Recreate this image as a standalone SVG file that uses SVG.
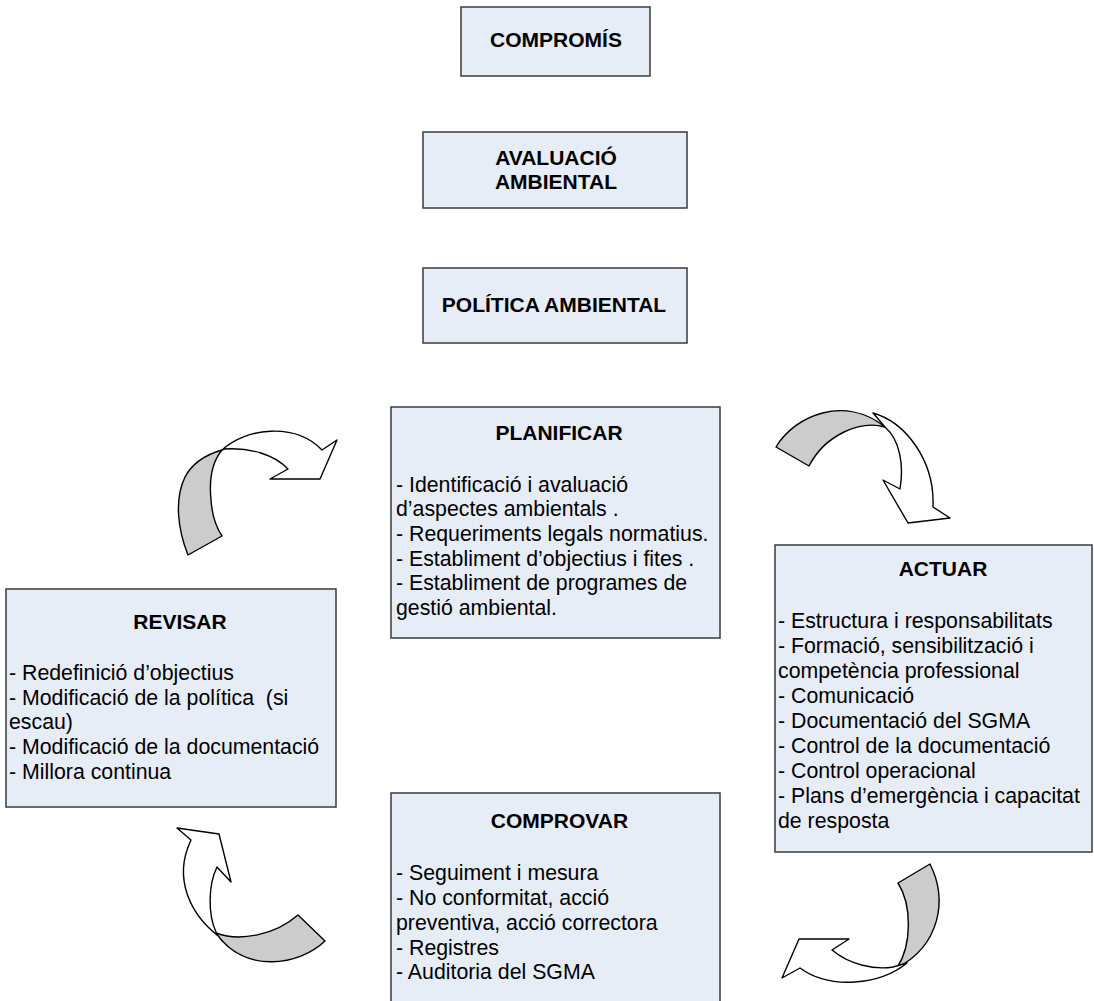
<svg xmlns="http://www.w3.org/2000/svg" width="1094" height="1001" viewBox="0 0 1094 1001">
<style>
.box{fill:#e7edf6;stroke:#3a3a3a;stroke-width:1.5}
.t{font-family:"Liberation Sans",Arial,sans-serif;font-size:21px;font-weight:bold;fill:#000;text-anchor:middle}
.b{font-family:"Liberation Sans",Arial,sans-serif;font-size:21.3px;fill:#000}
.g{fill:#cccccc;stroke:#000;stroke-width:1.4;stroke-linejoin:round}
.w{fill:#ffffff;stroke:#000;stroke-width:1.4;stroke-linejoin:round}
</style>
<rect width="1094" height="1001" fill="#fff"/>
<g id="compromis">
<rect class="box" x="461" y="7" width="189" height="69"/>
<text class="t" x="556" y="47">COMPROMÍS</text>
</g>
<g id="avaluacio">
<rect class="box" x="423" y="132" width="264" height="76"/>
<text class="t" x="556" y="165">AVALUACIÓ</text>
<text class="t" x="556" y="189">AMBIENTAL</text>
</g>
<g id="politica">
<rect class="box" x="423" y="268" width="264" height="75"/>
<text class="t" x="554" y="312">POLÍTICA AMBIENTAL</text>
</g>
<g id="planificar">
<rect class="box" x="391" y="407" width="329" height="231"/>
<text class="t" x="559" y="440">PLANIFICAR</text>
<text class="b" x="396" y="491.5">- Identificació i avaluació</text>
<text class="b" x="396" y="516.2">d’aspectes ambientals .</text>
<text class="b" x="396" y="540.9">- Requeriments legals normatius.</text>
<text class="b" x="396" y="565.6">- Establiment d’objectius i fites .</text>
<text class="b" x="396" y="590.3">- Establiment de programes de</text>
<text class="b" x="396" y="615">gestió ambiental.</text>
</g>
<g id="revisar">
<rect class="box" x="6" y="589" width="330" height="218"/>
<text class="t" x="180" y="629">REVISAR</text>
<text class="b" x="9" y="680">- Redefinició d’objectius</text>
<text class="b" x="9" y="704.7" xml:space="preserve">- Modificació de la política  (si</text>
<text class="b" x="9" y="729.4">escau)</text>
<text class="b" x="9" y="754.1">- Modificació de la documentació</text>
<text class="b" x="9" y="778.8">- Millora continua</text>
</g>
<g id="actuar">
<rect class="box" x="775" y="545" width="317" height="307"/>
<text class="t" x="943" y="576">ACTUAR</text>
<text class="b" x="778" y="628">- Estructura i responsabilitats</text>
<text class="b" x="778" y="653">- Formació, sensibilització i</text>
<text class="b" x="778" y="678">competència professional</text>
<text class="b" x="778" y="703">- Comunicació</text>
<text class="b" x="778" y="728">- Documentació del SGMA</text>
<text class="b" x="778" y="753">- Control de la documentació</text>
<text class="b" x="778" y="778">- Control operacional</text>
<text class="b" x="778" y="803">- Plans d’emergència i capacitat</text>
<text class="b" x="778" y="828">de resposta</text>
</g>
<g id="comprovar">
<rect class="box" x="391" y="793" width="329" height="212"/>
<text class="t" x="559.5" y="828">COMPROVAR</text>
<text class="b" x="396" y="880">- Seguiment i mesura</text>
<text class="b" x="396" y="905">- No conformitat, acció</text>
<text class="b" x="396" y="930">preventiva, acció correctora</text>
<text class="b" x="396" y="954.5">- Registres</text>
<text class="b" x="396" y="979">- Auditoria del SGMA</text>
</g>
<g id="connectors">
<g id="arrow-revisar-planificar">
<path class="g" d="M188,555 C178,530 174,500 185,477 C193,462 208,454 222,450 C212,462 209,480 211,500 C212,515 216,527 222,536 Z"/>
<path class="w" d="M222,450 C245,428 295,422 322,450 L337,440 L320,479 L270,479 L288,469 C275,455 250,447 224,449 Z"/>
</g>
<g id="arrow-planificar-actuar">
<path class="g" d="M776,447 C795,415 845,395 885,427 C860,420 825,435 809,466 Z"/>
<path class="w" d="M873,413 C905,422 935,460 933,507 L950,518 L908,523 L883,480 L900,489 C904,465 900,440 885,427 Z"/>
</g>
<g id="arrow-actuar-comprovar">
<path class="g" d="M898,883 L930,864 C948,900 940,945 897,968 C912,945 912,905 898,883 Z"/>
<path class="w" d="M907,963 C880,985 830,990 800,968 L782,978 L799,939 L849,939 L832,950 C850,965 875,970 893,967 Z"/>
</g>
<g id="arrow-comprovar-revisar">
<path class="g" d="M216,933 C240,942 275,935 298,915 L325,941 C300,965 245,975 216,933 Z"/>
<path class="w" d="M217,935 C192,915 172,880 191,840 L177,828 L219,834 L231,882 L217,867 C208,885 208,915 216,932 Z"/>
</g>
</g>
</svg>
